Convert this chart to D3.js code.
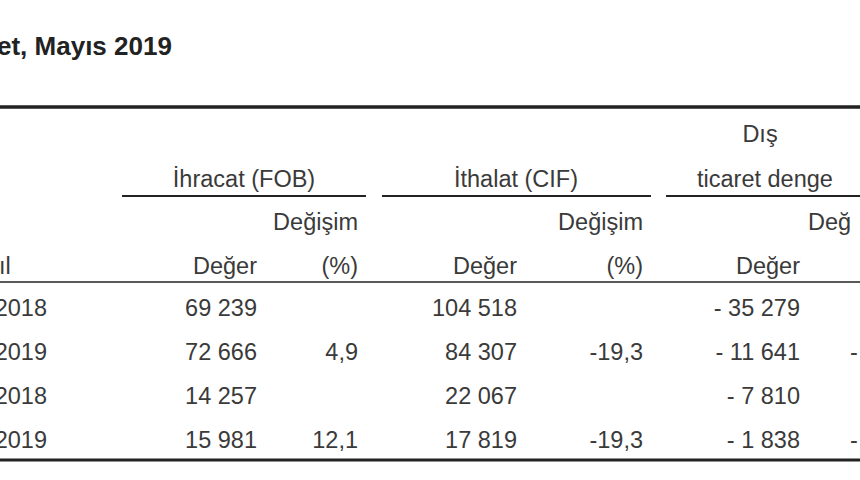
<!DOCTYPE html>
<html><head><meta charset="utf-8">
<script src="https://cdn.jsdelivr.net/npm/d3@7"></script>
<style>body{margin:0;background:#fff}text{font-family:"Liberation Sans",Arial,sans-serif;fill:#3a3a3a}</style>
</head><body>
<svg id="c" width="860" height="480"></svg>
<script>
const title = "et, Mayıs 2019";
const rowLabels = ["2018","2019","2018","2019"];
const ihracatDeger = ["69 239","72 666","14 257","15 981"];
const ihracatPct = ["","4,9","","12,1"];
const ithalatDeger = ["104 518","84 307","22 067","17 819"];
const ithalatPct = ["","-19,3","","-19,3"];
const disDeger = ["- 35 279","- 11 641","- 7 810","- 1 838"];
const disPct = ["","-","","-"];
const columns = ["label","ihrD","ihrP","ithD","ithP","disD","disP"];
const colRight = [47,257,358,517,643,800,860];
const FS = 23.5;

const svg = d3.select("#c");
const x = d3.scaleOrdinal().domain(columns).range(colRight);
const y = d3.scaleBand().domain(d3.range(rowLabels.length)).range([286,462]);

svg.append("text").attr("x",-3).attr("y",55).attr("font-size",26).attr("font-weight","bold").style("fill","#222").text(title);

const line=(x1,x2,yy,w)=>svg.append("line").attr("x1",x1).attr("x2",x2).attr("y1",yy).attr("y2",yy).attr("stroke","#222").attr("stroke-width",w);
line(0,860,107,3.5);
line(122,366,196,2);
line(382,651,196,2);
line(666,860,196,2);
line(0,860,282,1.5);
line(0,860,460,3);

const hdr=(t,xx,yy,anchor)=>svg.append("text").attr("x",xx).attr("y",yy).attr("font-size",FS).attr("text-anchor",anchor||"end").text(t);
hdr("İhracat (FOB)",244,187,"middle");
hdr("İthalat (CIF)",516,187,"middle");
hdr("Dış",760,142,"middle");
hdr("ticaret denge",697,187,"start");
hdr("Değişim",x("ihrP"),230);
hdr("Değişim",x("ithP"),230);
hdr("Değ",808,230,"start");
hdr("ıl",-1,274,"start");
hdr("Değer",x("ihrD"),274);
hdr("(%)",x("ihrP"),274);
hdr("Değer",x("ithD"),274);
hdr("(%)",x("ithP"),274);
hdr("Değer",x("disD"),274);

const series={label:rowLabels,ihrD:ihracatDeger,ihrP:ihracatPct,ithD:ithalatDeger,ithP:ithalatPct,disD:disDeger,disP:disPct};
columns.forEach(c=>{
  svg.selectAll(null).data(series[c]).join("text")
    .attr("x",c==="disP"?850:x(c))
    .attr("y",(d,i)=>y(i)+y.bandwidth()/2+8)
    .attr("font-size",FS)
    .attr("text-anchor",c==="disP"?"start":"end")
    .text(d=>d);
});
</script>
</body></html>
